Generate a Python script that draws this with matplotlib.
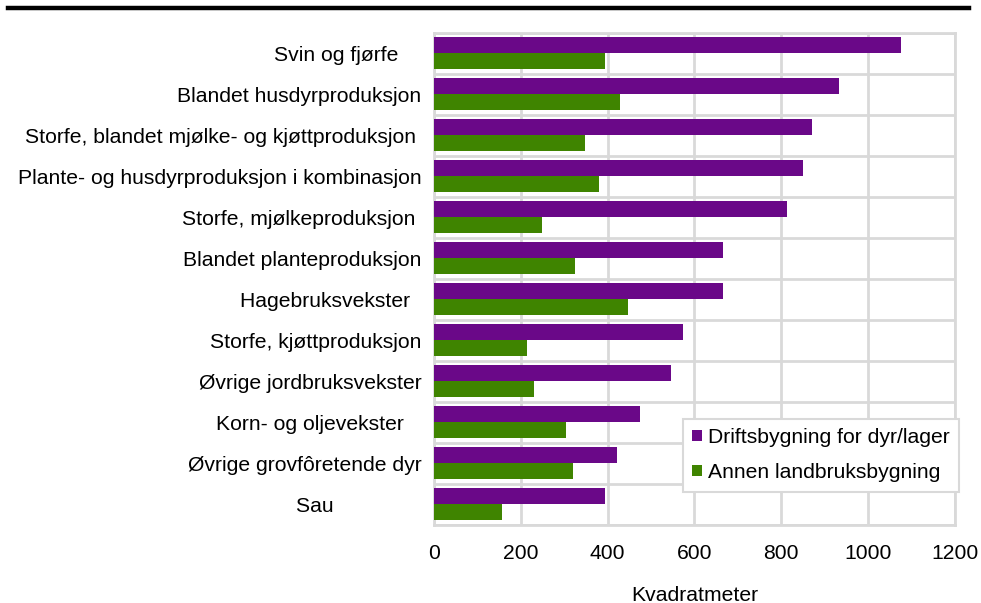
import numpy as np
import matplotlib.pyplot as plt
from matplotlib.lines import Line2D

plt.rcParams['font.family'] = ['Liberation Sans', 'DejaVu Sans']

# categories, top to bottom (trailing spaces as in the source labels)
categories = [
    'Svin og fjørfe    ',
    'Blandet husdyrproduksjon',
    'Storfe, blandet mjølke- og kjøttproduksjon ',
    'Plante- og husdyrproduksjon i kombinasjon',
    'Storfe, mjølkeproduksjon ',
    'Blandet planteproduksjon',
    'Hagebruksvekster  ',
    'Storfe, kjøttproduksjon',
    'Øvrige jordbruksvekster',
    'Korn- og oljevekster   ',
    'Øvrige grovfôretende dyr',
    'Sau' + ' ' * 15,
]
drift = [1076, 932, 871, 850, 814, 666, 666, 573, 546, 474, 421, 394]
annen = [394, 429, 347, 381, 248, 325, 446, 215, 230, 305, 321, 156]
xticks = [0, 200, 400, 600, 800, 1000, 1200]

purple = '#6a0888'
green = '#3f8400'
grid = '#d9d9d9'
fs = 15.2

fig = plt.figure(figsize=(9.81, 6.03), dpi=100)
ax = fig.add_axes([0.4424, 0.1294, 0.5311, 0.8159])

y = np.arange(len(categories))
h = 0.39
ax.barh(y - h / 2, drift, height=h, color=purple, label='Driftsbygning for dyr/lager', zorder=3)
ax.barh(y + h / 2, annen, height=h, color=green, label='Annen landbruksbygning', zorder=3)

ax.set_ylim(len(categories) - 0.5, -0.5)
ax.set_xlim(0, 1200)
ax.set_yticks(y)
ax.set_yticklabels(categories, fontsize=fs)
ax.set_yticks(np.arange(-0.5, len(categories), 1), minor=True)
ax.set_xticks(xticks)
ax.set_xticklabels([str(v) for v in xticks], fontsize=fs)
ax.tick_params(axis='both', which='both', length=0)
ax.tick_params(axis='y', pad=9)
ax.tick_params(axis='x', pad=14)
ax.grid(axis='x', which='major', color=grid, linewidth=2, zorder=0)
ax.grid(axis='y', which='minor', color=grid, linewidth=2, zorder=0)
for s in ax.spines.values():
    s.set_color(grid)
    s.set_linewidth(2)

ax.set_xlabel('Kvadratmeter', fontsize=fs, labelpad=16)

leg = ax.legend(loc='lower right', bbox_to_anchor=(1.008, 0.068), fontsize=fs,
                handlelength=0.45, handleheight=0.45, handletextpad=0.3,
                fancybox=False, framealpha=1, borderpad=0.45, labelspacing=0.75,
                borderaxespad=0)
leg.get_frame().set_edgecolor(grid)
leg.get_frame().set_linewidth(1.5)
leg.set_zorder(5)

fig.add_artist(Line2D([0.008, 0.988], [0.986, 0.986], color='black', linewidth=3.2,
                      transform=fig.transFigure))

fig.savefig('out.png', dpi=100)
